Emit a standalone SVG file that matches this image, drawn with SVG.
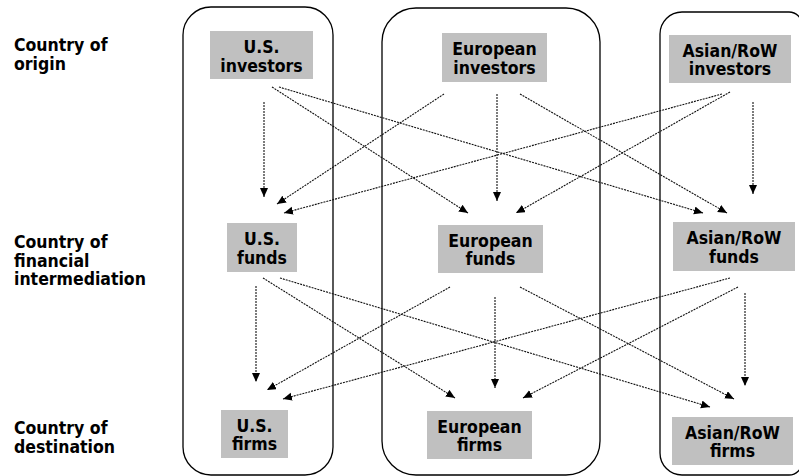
<svg xmlns="http://www.w3.org/2000/svg" width="799" height="476" viewBox="0 0 799 476">
<defs>
<style>
.box{fill:#c0c0c0;stroke:none}
.cont{fill:none;stroke:#000;stroke-width:1.3}
.t{font-family:"DejaVu Sans Condensed","DejaVu Sans","Liberation Sans",sans-serif;font-weight:bold;font-size:17.5px;fill:#000}
.nt{text-anchor:middle}
.c line{stroke:#111;stroke-width:1.1;stroke-dasharray:2 1;marker-end:url(#ah)}
</style>
<marker id="ah" markerUnits="userSpaceOnUse" markerWidth="10" markerHeight="9" refX="9" refY="4" orient="auto">
<path d="M0,0 L9,4 L0,8 z" fill="#000"/>
</marker>
</defs>
<rect width="799" height="476" fill="#fff"/>
<g id="containers">
<rect class="cont" x="183" y="7" width="150" height="468" rx="28"/>
<rect class="cont" x="382" y="8" width="218" height="467" rx="34"/>
<path class="cont" d="M660,34 A22,22 0 0 1 682,12 L789,12 A13,13 0 0 1 802,25 L802,462 A13,13 0 0 1 789,475 L682,475 A22,22 0 0 1 660,453 Z"/>
</g>
<g id="labels">
<text class="t" x="14" y="51">Country of</text>
<text class="t" x="14" y="70">origin</text>
<text class="t" x="14" y="248">Country of</text>
<text class="t" x="14" y="266.5">financial</text>
<text class="t" x="14" y="285">intermediation</text>
<text class="t" x="14" y="434">Country of</text>
<text class="t" x="14" y="452.5">destination</text>
</g>
<g id="us-investors"><rect class="box" x="210" y="31" width="103" height="48"/><text class="t nt" x="261.5" y="53">U.S.</text><text class="t nt" x="261.5" y="71.5">investors</text></g>
<g id="eu-investors"><rect class="box" x="442" y="33" width="105" height="49"/><text class="t nt" x="494.5" y="55">European</text><text class="t nt" x="494.5" y="73.5">investors</text></g>
<g id="as-investors"><rect class="box" x="669" y="35" width="122" height="48"/><text class="t nt" x="730" y="56.5">Asian/RoW</text><text class="t nt" x="730" y="75">investors</text></g>
<g id="us-funds"><rect class="box" x="227" y="223" width="70" height="49"/><text class="t nt" x="262" y="245">U.S.</text><text class="t nt" x="262" y="263.5">funds</text></g>
<g id="eu-funds"><rect class="box" x="438" y="225" width="105" height="48"/><text class="t nt" x="490.5" y="246.5">European</text><text class="t nt" x="490.5" y="265">funds</text></g>
<g id="as-funds"><rect class="box" x="673" y="222" width="122" height="49"/><text class="t nt" x="734" y="244">Asian/RoW</text><text class="t nt" x="734" y="262.5">funds</text></g>
<g id="us-firms"><rect class="box" x="221" y="410" width="67" height="48"/><text class="t nt" x="254.5" y="431.5">U.S.</text><text class="t nt" x="254.5" y="450">firms</text></g>
<g id="eu-firms"><rect class="box" x="427" y="411" width="105" height="48"/><text class="t nt" x="479.5" y="432.5">European</text><text class="t nt" x="479.5" y="451">firms</text></g>
<g id="as-firms"><rect class="box" x="672" y="417" width="121" height="48"/><text class="t nt" x="732.5" y="438.5">Asian/RoW</text><text class="t nt" x="732.5" y="457">firms</text></g>
<g id="connectors" class="c">
<line x1="264" y1="102" x2="264" y2="197"/>
<line x1="272" y1="87" x2="468" y2="213"/>
<line x1="279" y1="87" x2="703" y2="213"/>
<line x1="497" y1="94" x2="497" y2="201"/>
<line x1="444" y1="94" x2="277" y2="204"/>
<line x1="520" y1="94" x2="727" y2="213"/>
<line x1="753" y1="102" x2="753" y2="194"/>
<line x1="722" y1="94" x2="284" y2="213"/>
<line x1="730" y1="92" x2="516" y2="213"/>
<line x1="256" y1="286" x2="256" y2="382"/>
<line x1="263" y1="278" x2="455" y2="398"/>
<line x1="280" y1="278" x2="710" y2="407"/>
<line x1="495" y1="297" x2="495" y2="388"/>
<line x1="450" y1="287" x2="267" y2="390"/>
<line x1="520" y1="287" x2="734" y2="399"/>
<line x1="745" y1="293" x2="745" y2="386"/>
<line x1="730" y1="278" x2="283" y2="399"/>
<line x1="738" y1="287" x2="523" y2="398"/>
</g>
</svg>
